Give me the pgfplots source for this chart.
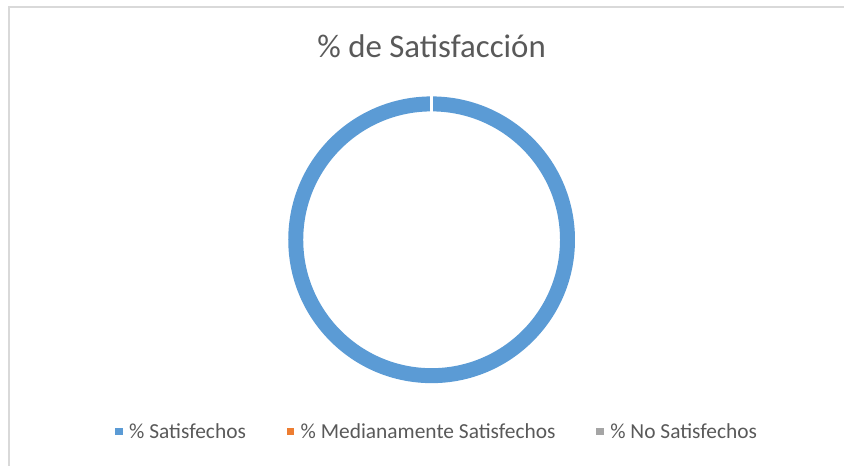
\documentclass[border=0pt]{standalone}
\usepackage{pgfplots}
\usepackage{pgfplotstable}
\pgfplotsset{compat=1.18}
\usepackage{fontspec}
\setmainfont{Carlito}

\definecolor{cSat}{HTML}{5B9BD5}
\definecolor{cMed}{HTML}{ED7D31}
\definecolor{cNo}{HTML}{A5A5A5}
\definecolor{txt}{HTML}{595959}
\definecolor{marco}{HTML}{D9D9D9}

% porcentaje de cada categoria
\pgfplotstableread{
serie valor
1 100
2 0
3 0
}\satisf

\begin{document}
\begin{tikzpicture}
\pgfplotstablegetelem{0}{valor}\of\satisf \let\va\pgfplotsretval
\pgfplotstablegetelem{1}{valor}\of\satisf \let\vb\pgfplotsretval
\pgfplotstablegetelem{2}{valor}\of\satisf \let\vc\pgfplotsretval
\pgfmathsetmacro\total{\va+\vb+\vc}
\pgfmathsetmacro\aA{90-360*(\va/\total)}
\pgfmathsetmacro\aB{\aA-360*(\vb/\total)}
\pgfmathsetmacro\aC{\aB-360*(\vc/\total)}
\def\cX{432}\def\cY{226}\def\Rout{143.5}\def\Rin{128.5}
\begin{axis}[
    width=845bp, height=466bp, scale only axis,
    xmin=0, xmax=845, ymin=0, ymax=466,
    hide axis, clip=false,
    legend columns=3,
    legend style={draw=none, fill=none,
        at={(0.5178,0.073)}, anchor=center,
        font=\fontsize{21.5}{24}\selectfont, text=txt,
        /tikz/every odd column/.append style={column sep=5bp},
        /tikz/every even column/.append style={column sep=39bp}},
    legend image code/.code={\fill[#1] (0bp,-3bp) rectangle (6.5bp,3.5bp);},
]
\path (axis cs:0,0) (axis cs:845,466);
% marco
\draw[marco, line width=1.5bp] (axis cs:9,0) -- (axis cs:9,459) -- (axis cs:845,459);
% titulo
\node[anchor=base, text=txt, font=\fontsize{33}{36}\selectfont] at (axis cs:432,408) {\% de Satisfacción};
% anillo
\fill[cSat] (axis cs:{\cX+\Rout*cos(90)},{\cY+\Rout*sin(90)}) arc[start angle=90, end angle=\aA, radius=\Rout bp]
  -- (axis cs:{\cX+\Rin*cos(\aA)},{\cY+\Rin*sin(\aA)}) arc[start angle=\aA, end angle=90, radius=\Rin bp] -- cycle;
\fill[cMed] (axis cs:{\cX+\Rout*cos(\aA)},{\cY+\Rout*sin(\aA)}) arc[start angle=\aA, end angle=\aB, radius=\Rout bp]
  -- (axis cs:{\cX+\Rin*cos(\aB)},{\cY+\Rin*sin(\aB)}) arc[start angle=\aB, end angle=\aA, radius=\Rin bp] -- cycle;
\fill[cNo] (axis cs:{\cX+\Rout*cos(\aB)},{\cY+\Rout*sin(\aB)}) arc[start angle=\aB, end angle=\aC, radius=\Rout bp]
  -- (axis cs:{\cX+\Rin*cos(\aC)},{\cY+\Rin*sin(\aC)}) arc[start angle=\aC, end angle=\aB, radius=\Rin bp] -- cycle;
% borde blanco entre sectores
\draw[white, line width=2.5bp] (axis cs:{\cX+(\Rin-1)*cos(\aA)},{\cY+(\Rin-1)*sin(\aA)}) -- (axis cs:{\cX+(\Rout+1)*cos(\aA)},{\cY+(\Rout+1)*sin(\aA)});
\addlegendimage{cSat}
\addlegendentry{\% Satisfechos}
\addlegendimage{cMed}
\addlegendentry{\% Medianamente Satisfechos}
\addlegendimage{cNo}
\addlegendentry{\% No Satisfechos}
\end{axis}
\end{tikzpicture}
\end{document}
